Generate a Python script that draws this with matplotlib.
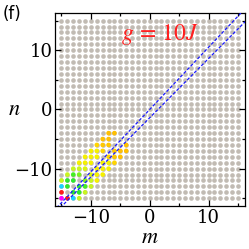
import numpy as np
import matplotlib
matplotlib.use("Agg")
import matplotlib.pyplot as plt
from matplotlib.ticker import MultipleLocator

plt.rcParams['font.family'] = ['DejaVu Serif']
plt.rcParams['mathtext.fontset'] = 'stix'

# lattice sites m, n = -15..15
sites = np.arange(-15, 16)

# coloured sites on one side of the diagonal (m > n), mirrored to n > m
col_m = [-14, -13, -12, -13, -12, -11, -12, -11, -10, -11, -10, -9,
         -10, -9, -8, -9, -8, -7, -8, -7, -6, -7, -6, -5, -6, -5, -4, -4]
col_n = [-15, -15, -15, -14, -14, -14, -13, -13, -13, -12, -12, -12,
         -11, -11, -11, -10, -10, -10, -9, -9, -9, -8, -8, -8, -7, -7, -7, -6]
col_c = ['#ff1a1a', '#19d2ff', '#c8f51e', '#2ee82e', '#2ee82e', '#c8f51e',
         '#2ee82e', '#44ee22', '#c8f51e', '#7cf01e', '#c8f51e', '#f5f000',
         '#d9f510', '#f5f000', '#f5f000', '#f5f000', '#f5f000', '#f5f000',
         '#f5f000', '#f5f000', '#ffd400', '#ffd400', '#ffc800', '#ffc000',
         '#ffc800', '#ffbf00', '#ffbf00', '#ffbf00']
corner_c = '#ff00ff'

# dashed guide lines (slope, intercept)
line_a = (1.05, 0.0)
line_b = (1.0, -1.4)

fig = plt.figure(figsize=(2.49, 2.49), dpi=100)
ax = fig.add_axes([0.221, 0.173, 0.763, 0.775])

M, N = np.meshgrid(sites, sites)
ax.scatter(M.ravel(), N.ravel(), s=11, c='#c1bbb3', linewidths=0, zorder=1)

xs = col_m + col_n + [-15]
ys = col_n + col_m + [-15]
cs = col_c + col_c + [corner_c]
ax.scatter(xs, ys, s=11, c=cs, linewidths=0, zorder=2)

xx = np.array([-17, 17])
for k, b in (line_a, line_b):
    ax.plot(xx, k * xx + b, ls=(0, (2.5, 1.5)), color='#1a1aff', lw=0.9, zorder=3)

ax.text(1.8, 12.6, r'$g\,=\,10J$', color='#ff2020', fontsize=17, ha='center', va='center')

ax.set_xlim(-16.1, 16.2)
ax.set_ylim(-16.3, 16.3)
ax.xaxis.set_major_locator(MultipleLocator(10))
ax.yaxis.set_major_locator(MultipleLocator(10))
ax.xaxis.set_minor_locator(MultipleLocator(5))
ax.yaxis.set_minor_locator(MultipleLocator(5))
ax.tick_params(which='both', direction='in', top=True, right=True, labelsize=13, width=0.9)
ax.tick_params(which='major', length=4, pad=2)
ax.tick_params(which='minor', length=2.5)
for sp in ax.spines.values():
    sp.set_linewidth(0.9)

ax.set_xlabel(r'$m$', fontsize=16, va='center')
ax.xaxis.set_label_coords(0.5, -0.16)
ax.set_ylabel(r'$n$', fontsize=16, rotation=0, va='center', ha='center')
ax.yaxis.set_label_coords(-0.215, 0.5)
fig.text(0.012, 0.945, '(f)', fontsize=12, family='DejaVu Sans', va='center')

fig.savefig('out.png', dpi=100)
